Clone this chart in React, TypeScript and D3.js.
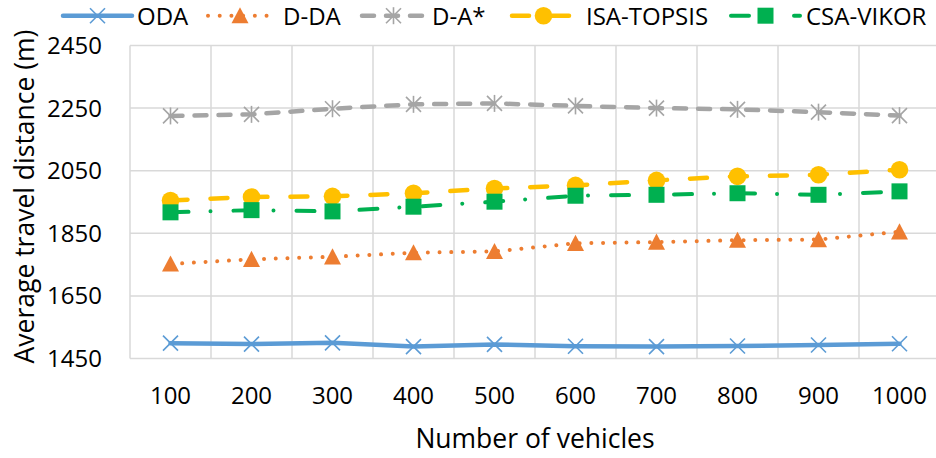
import React from "react";
import * as d3 from "d3";

const categories = ["100", "200", "300", "400", "500", "600", "700", "800", "900", "1000"];
const odaValues = [1499, 1496, 1500, 1488, 1495, 1489, 1488, 1490, 1493, 1497];
const ddaValues = [1752, 1767, 1775, 1788, 1792, 1818, 1822, 1828, 1830, 1855];
const daStarValues = [2225, 2230, 2248, 2262, 2265, 2257, 2250, 2246, 2237, 2226];
const isaTopsisValues = [1955, 1966, 1968, 1978, 1993, 2003, 2019, 2032, 2037, 2053];
const csaVikorValues = [1917, 1924, 1920, 1935, 1951, 1970, 1973, 1978, 1973, 1984];
const yTicks = [1450, 1650, 1850, 2050, 2250, 2450];
const seriesNames = ["ODA", "D-DA", "D-A*", "ISA-TOPSIS", "CSA-VIKOR"];

type MarkerKind = "x" | "triangle" | "asterisk" | "circle" | "square";

const seriesStyles: { color: string; width: number; dash: string; marker: MarkerKind }[] = [
  { color: "#5B9BD5", width: 4.5, dash: "none", marker: "x" },
  { color: "#ED7D31", width: 4, dash: "0.01 11.7", marker: "triangle" },
  { color: "#A5A5A5", width: 4.5, dash: "12 12", marker: "asterisk" },
  { color: "#FFC000", width: 4.5, dash: "17 23", marker: "circle" },
  { color: "#00B050", width: 4, dash: "18 22 0.01 23", marker: "square" },
];

// legend layout: [line start, line end, text start]
const legendLayout = [
  [63, 132, 137],
  [208, 272, 283],
  [362, 425, 432],
  [512, 575, 586],
  [731, 800, 806],
];

const W = 936;
const H = 458;
const FONT = "'Open Sans', 'Noto Sans', sans-serif";

function Marker({ kind, x, y, color }: { kind: MarkerKind; x: number; y: number; color: string }) {
  if (kind === "x") {
    const s = 7.5;
    return (
      <g stroke={color} strokeWidth={1.6}>
        <line x1={x - s} y1={y - s} x2={x + s} y2={y + s} />
        <line x1={x - s} y1={y + s} x2={x + s} y2={y - s} />
      </g>
    );
  }
  if (kind === "asterisk") {
    const s = 7.5;
    return (
      <g stroke={color} strokeWidth={1.6}>
        <line x1={x - s} y1={y - s} x2={x + s} y2={y + s} />
        <line x1={x - s} y1={y + s} x2={x + s} y2={y - s} />
        <line x1={x} y1={y - s - 1} x2={x} y2={y + s + 1} />
      </g>
    );
  }
  if (kind === "triangle") {
    const s = 8.5;
    return (
      <path
        d={`M${x},${y - s} L${x + s},${y + s * 0.9} L${x - s},${y + s * 0.9} Z`}
        fill={color}
      />
    );
  }
  if (kind === "circle") {
    return <circle cx={x} cy={y} r={8.8} fill={color} />;
  }
  const s = 8;
  return <rect x={x - s} y={y - s} width={2 * s} height={2 * s} fill={color} />;
}

export default function App() {
  const allSeries = [odaValues, ddaValues, daStarValues, isaTopsisValues, csaVikorValues];
  const x = d3.scaleBand<string>().domain(categories).range([130, 940]).padding(0);
  const y = d3.scaleLinear().domain([1450, 2450]).range([358.5, 45.5]);
  const cx = (c: string) => (x(c) as number) + x.bandwidth() / 2;

  const line = d3
    .line<number>()
    .x((_, i) => cx(categories[i]))
    .y((d) => y(d));

  const boundaries = categories.map((c) => x(c) as number).concat([x.range()[1]]);

  return (
    <svg
      width={W}
      height={H}
      style={{ position: "absolute", left: 0, top: 0, background: "#fff" }}
      fontFamily={FONT}
    >
      <rect width={W} height={H} fill="#fff" />
      {/* grid */}
      <g stroke="#D9D9D9" strokeWidth={1.5}>
        {yTicks.map((t) => (
          <line key={"h" + t} x1={130} x2={940} y1={y(t)} y2={y(t)} />
        ))}
        {boundaries.map((b, i) => (
          <line key={"v" + i} x1={b} x2={b} y1={y(2450)} y2={y(1450)} />
        ))}
      </g>
      {/* y tick labels */}
      <g fontSize={24} fill="#000" textAnchor="end">
        {yTicks.map((t) => (
          <text key={t} x={102} y={y(t) + 8.5}>
            {t}
          </text>
        ))}
      </g>
      {/* x tick labels */}
      <g fontSize={24} fill="#000" textAnchor="middle">
        {categories.map((c) => (
          <text key={c} x={cx(c)} y={404}>
            {c}
          </text>
        ))}
      </g>
      {/* axis titles */}
      <text x={535} y={448} fontSize={26.5} textAnchor="middle" fill="#000">
        Number of vehicles
      </text>
      <text
        transform={`translate(34,196.5) rotate(-90)`}
        fontSize={26.5}
        textAnchor="middle"
        fill="#000"
      >
        Average travel distance (m)
      </text>
      {/* series */}
      {allSeries.map((vals, si) => {
        const st = seriesStyles[si];
        return (
          <g key={seriesNames[si]}>
            <path
              d={line(vals) || ""}
              fill="none"
              stroke={st.color}
              strokeWidth={st.width}
              strokeDasharray={st.dash}
              strokeLinecap="round"
              strokeLinejoin="round"
            />
            {vals.map((v, i) => (
              <Marker key={i} kind={st.marker} x={cx(categories[i])} y={y(v)} color={st.color} />
            ))}
          </g>
        );
      })}
      {/* legend */}
      {seriesNames.map((name, si) => {
        const st = seriesStyles[si];
        const [x0, x1, tx] = legendLayout[si];
        const ly = 15.7;
        return (
          <g key={"leg" + name}>
            <line
              x1={x0}
              x2={x1}
              y1={ly}
              y2={ly}
              stroke={st.color}
              strokeWidth={st.width}
              strokeDasharray={st.dash}
              strokeLinecap="round"
            />
            <Marker kind={st.marker} x={(x0 + x1) / 2} y={ly} color={st.color} />
            <text x={tx} y={25} fontSize={24} fill="#000">
              {name}
            </text>
          </g>
        );
      })}
    </svg>
  );
}
